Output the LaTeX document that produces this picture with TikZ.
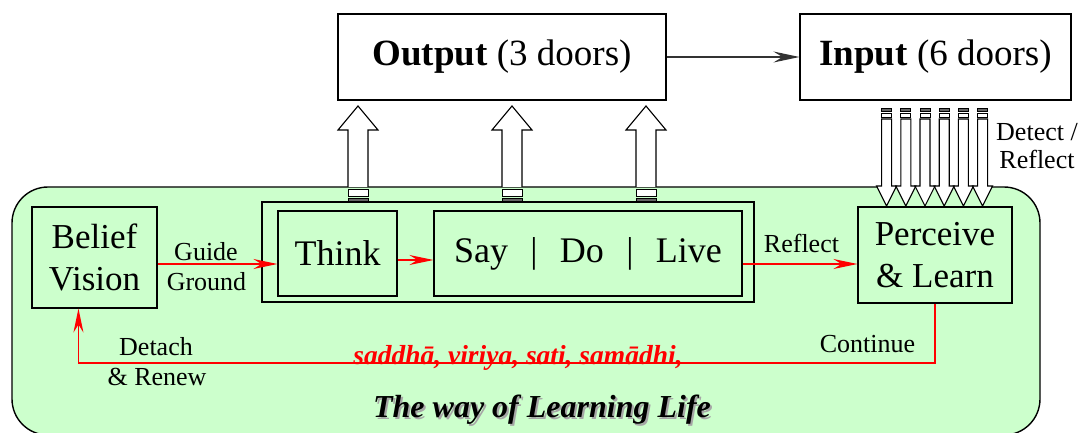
\documentclass[tikz,border=0pt]{standalone}
\usepackage{fontspec}
\setmainfont{Liberation Serif}
\usetikzlibrary{arrows.meta}
\definecolor{panelgreen}{HTML}{CCFFCC}
\definecolor{darklink}{HTML}{333333}
\definecolor{tailgray}{HTML}{666666}

\begin{document}
\begin{tikzpicture}[x=1pt,y=-1pt,
  box/.style={draw=black, line width=1.1pt, inner sep=0pt, align=center,
    font=\fontsize{35}{42}\selectfont},
  frame/.style={draw=black, line width=1.1pt, inner sep=0pt},
  panel/.style={draw=black, fill=panelgreen, line width=1.4pt, rounded corners=36pt, inner sep=0pt},
  lbl/.style={font=\fontsize{26}{31}\selectfont, inner sep=0pt, anchor=base},
  redlink/.style={draw=red, line width=1.3pt, -{Stealth[length=24pt,width=10pt,inset=8pt]}},
  graylink/.style={draw=darklink, line width=1.1pt, -{Stealth[length=26pt,width=11pt,inset=9pt]}},
  blockarrow/.style={draw=black, fill=white, line width=1.1pt},
  tailbox/.style={draw=black, fill=white, line width=1pt},
  tailbar/.style={draw=black, fill=tailgray, line width=1pt},
]
\useasboundingbox (0,0) rectangle (1088,433);

% top row: the two "doors" boxes
\node[box, minimum width=328pt, minimum height=86pt, font=\fontsize{37}{44}\selectfont] (output) at (502,57) {\textbf{Output} (3 doors)};
\node[box, minimum width=271pt, minimum height=86pt, font=\fontsize{37}{44}\selectfont] (input) at (935.5,57) {\textbf{Input} (6 doors)};
\draw[graylink] (output.east) -- (input.west);

% green panel
\node[panel, minimum width=1028pt, minimum height=248pt] (panel) at (526,311) {};

% three outgoing block arrows
\foreach \x in {358,512,646} {
  \draw[blockarrow] (\x-10,187) -- (\x-10,130) -- (\x-20,130) -- (\x,106)
        -- (\x+20,130) -- (\x+10,130) -- (\x+10,187);
  \draw[tailbox] (\x-10,190) rectangle (\x+10,197);
  \draw[tailbar] (\x-10,199) rectangle (\x+10,203);
}

% six incoming block arrows
\foreach \i in {0,...,5} {
  \pgfmathsetmacro{\x}{886.6+19.2*\i}
  \draw[tailbar] (\x-5,109) rectangle (\x+5,112);
  \draw[tailbox] (\x-5,113.5) rectangle (\x+5,117.5);
  \draw[blockarrow] (\x-5,119) -- (\x-5,186) -- (\x-10,186) -- (\x,206)
        -- (\x+10,186) -- (\x+5,186) -- (\x+5,119) -- cycle;
}
\node[lbl] (detect) at (1037,141) {Detect /};
\node[lbl] (reflectin) at (1037,169) {Reflect};

% inner boxes
\node[box, minimum width=125pt, minimum height=101pt] (belief) at (94.5,257.5) {Belief\\Vision};
\node[frame, minimum width=492pt, minimum height=100pt] (actframe) at (508,252) {};
\node[box, minimum width=119pt, minimum height=85pt, font=\fontsize{36}{43}\selectfont] (think) at (337.5,253.5) {Think};
\node[box, minimum width=308pt, minimum height=85pt, font=\fontsize{36}{43}\selectfont] (say) at (588,253.5)
  {Say\hspace{0.62em}|\hspace{0.62em}Do\hspace{0.62em}|\hspace{0.62em}Live};
\node[box, minimum width=154pt, minimum height=96pt] (perceive) at (935,255) {Perceive\\\&\ Learn};

% red connectors
\coordinate (guidestart) at ([yshift=-6.5pt]belief.east);
\draw[redlink] (guidestart) -- (guidestart -| think.west);
\coordinate (thinkout) at ([yshift=-6.5pt]think.east);
\draw[redlink] (thinkout) -- (thinkout -| say.west);
\coordinate (sayout) at ([yshift=-10.5pt]say.east);
\draw[redlink] (sayout) -- (sayout -| perceive.west);
\coordinate (bfoot) at ([xshift=47pt]belief.south west);
\draw[redlink] (perceive.south) |- (bfoot |- 0,363) -- (bfoot);

% connector labels
\node[lbl] (guide) at (206,260) {Guide};
\node[lbl] (ground) at (206.5,290) {Ground};
\node[lbl] (reflect) at (801.5,252) {Reflect};
\node[lbl] (continue) at (867.5,352) {Continue};
\node[lbl] (detach) at (156,355) {Detach};
\node[lbl] (renew) at (157,385) {\& Renew};

% the four faculties
\node[lbl, text=red, font=\fontsize{27.5}{33}\selectfont\bfseries\itshape] (faculties) at (518,364)
  {saddhā, viriya, sati, samādhi,};

% panel title with drop shadow
\node[lbl, text=black!35, font=\fontsize{32}{38}\selectfont\bfseries\itshape] (titleshadow) at (544,419) {The way of Learning Life};
\node[lbl, font=\fontsize{32}{38}\selectfont\bfseries\itshape] (title) at (542,417) {The way of Learning Life};
\end{tikzpicture}
\end{document}
